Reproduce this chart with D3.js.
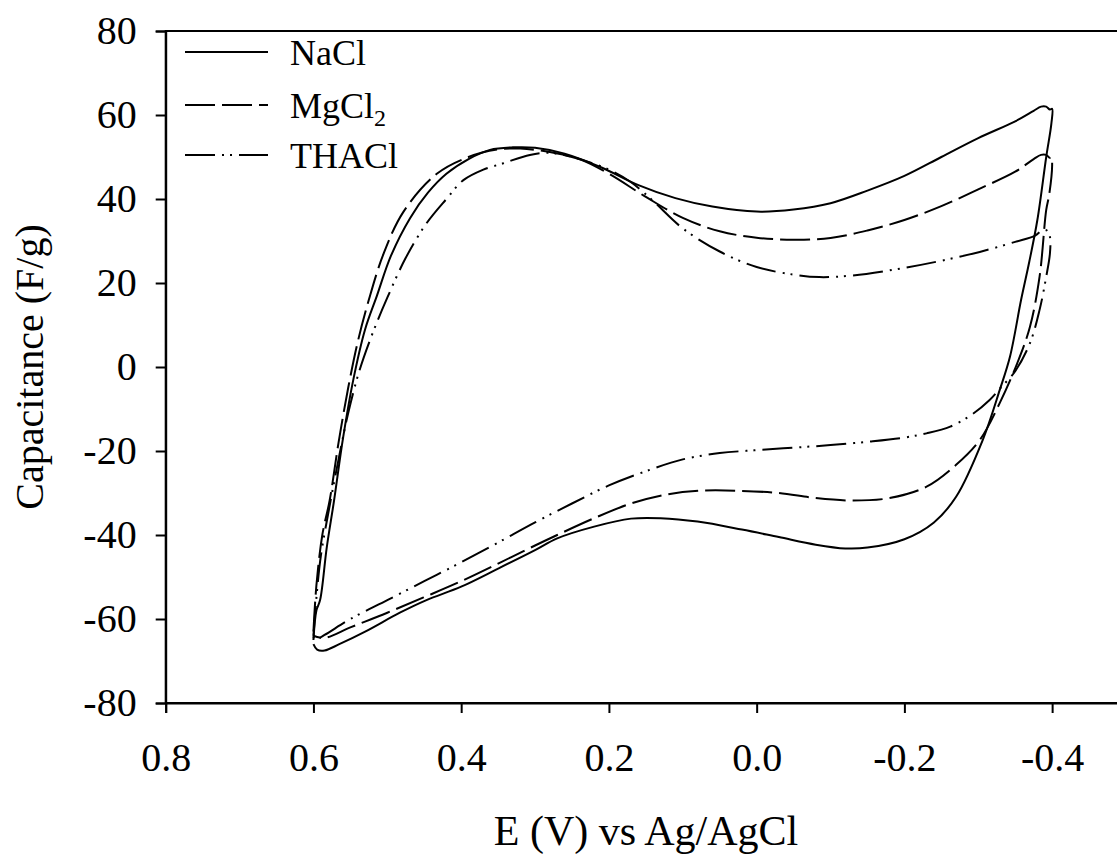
<html lang="en">
<head>
<style>
body { margin: 0; background: #fff; }
svg text { font-family: "Liberation Serif", "Times New Roman", serif; fill: #000; }
</style>
</head>
<body>
<script type='text/javascript' src='https://d3js.org/d3.v7.min.js'></script>
<script>
// series (E in V, capacitance in F/g)
const naclE = [0.600, 0.596, 0.591, 0.582, 0.572, 0.560, 0.546, 0.530, 0.514, 0.495, 0.469, 0.445, 0.420, 0.390, 0.361, 0.330, 0.300, 0.260, 0.210, 0.160, 0.110, 0.060, 0.000, -0.050, -0.100, -0.150, -0.200, -0.250, -0.300, -0.350, -0.375, -0.385, -0.392, -0.397, -0.400,
  -0.399, -0.392, -0.380, -0.369, -0.358, -0.343, -0.329, -0.306, -0.270, -0.240, -0.200, -0.150, -0.120, -0.080, -0.030, 0.020, 0.080, 0.130, 0.170, 0.220, 0.270, 0.300, 0.350, 0.400, 0.447, 0.483, 0.530, 0.565, 0.585, 0.595, 0.600];
const naclC = [-65, -58, -55.5, -43, -31.7, -17, -3, 9, 17, 26.5, 35.5, 41.5, 46, 49.5, 51.7, 52.3, 52.2, 50.8, 47.5, 43.3, 40.2, 38.2, 37.0, 37.5, 39, 42, 45.5, 50, 54.5, 58.5, 61, 62, 62, 61.3, 61.5,
  58, 50, 35, 25, 16, 2.5, -5.5, -17.4, -30.9, -37, -41, -43, -43.2, -42.3, -40.5, -38.7, -36.8, -36, -36.1, -38, -40.8, -43.6, -48, -52.3, -55.5, -58.5, -63, -66, -67.5, -67.3, -66];

const mgE = [0.600, 0.596, 0.588, 0.578, 0.566, 0.553, 0.540, 0.525, 0.505, 0.478, 0.433, 0.390, 0.350, 0.320, 0.280, 0.240, 0.200, 0.150, 0.100, 0.050, 0.000, -0.050, -0.100, -0.150, -0.200, -0.250, -0.300, -0.350, -0.375, -0.385, -0.392, -0.397, -0.399,
  -0.400, -0.396, -0.392, -0.383, -0.370, -0.353, -0.329, -0.302, -0.270, -0.230, -0.180, -0.130, -0.080, -0.030, 0.020, 0.070, 0.120, 0.170, 0.220, 0.270, 0.300, 0.350, 0.400, 0.450, 0.500, 0.550, 0.585, 0.600];
const mgC = [-63, -52, -40, -31.7, -18, -5, 6, 16, 27, 37, 46, 50, 51.8, 52, 51.2, 49.5, 46, 40.5, 35.5, 32.3, 30.8, 30.3, 30.7, 32.5, 35, 38.3, 42.3, 46.5, 49.5, 50.5, 50.5, 49.8, 50,
  48, 41, 37.4, 21.5, 9.6, 1.0, -8.6, -17.4, -23.3, -28.5, -31.2, -31.8, -31.2, -30, -29.5, -29.4, -30.3, -32.5, -36, -40, -42.5, -46.8, -51, -54.8, -58.5, -62, -64.5, -64];

const thaE = [0.600, 0.596, 0.590, 0.578, 0.566, 0.553, 0.538, 0.520, 0.500, 0.475, 0.447, 0.420, 0.397, 0.370, 0.343, 0.307, 0.280, 0.250, 0.200, 0.170, 0.140, 0.100, 0.050, 0.000, -0.050, -0.085, -0.130, -0.200, -0.250, -0.302, -0.350, -0.377, -0.387, -0.393, -0.397,
  -0.397, -0.392, -0.383, -0.370, -0.350, -0.330, -0.315, -0.290, -0.262, -0.230, -0.200, -0.150, -0.100, -0.050, 0.000, 0.050, 0.100, 0.145, 0.200, 0.250, 0.300, 0.350, 0.400, 0.450, 0.500, 0.550, 0.585, 0.598, 0.600];
const thaC = [-64, -55, -45, -33, -22, -11, -1, 8, 16.5, 26, 34.2, 40, 44.5, 47, 48.5, 50.5, 51, 50, 47, 44, 39.5, 33, 27.5, 23.8, 22, 21.4, 21.8, 23.6, 25.3, 27.4, 29.8, 31.3, 32.6, 32.5, 31,
  27, 21.5, 13.6, 5.7, -1, -5, -7.9, -11.5, -14.2, -15.8, -16.8, -17.8, -18.6, -19.2, -19.8, -20.5, -22, -24.5, -28.2, -32.5, -37, -41.8, -46.5, -51, -55.5, -60, -63.8, -65, -64];

const seriesNames = ["NaCl", "MgCl", "THACl"];
const seriesDash = [null, "30,7", "30,7,2,6,2,7"];
const xTicks = [0.8, 0.6, 0.4, 0.2, 0.0, -0.2, -0.4];
const yTicks = [-80, -60, -40, -20, 0, 20, 40, 60, 80];

const W = 1117, H = 856;
const FONT = "'Liberation Serif', 'Times New Roman', serif";
const svg = d3.select("body").append("svg")
  .attr("width", W).attr("height", H)
  .attr("font-family", FONT);

const x = d3.scaleLinear().domain([0.8, -0.5]).range([165.7, 1126]);
const y = d3.scaleLinear().domain([-80, 80]).range([703, 31]);

// frame (right edge falls outside the picture)
svg.append("rect")
  .attr("x", x(0.8)).attr("y", y(80))
  .attr("width", x(-0.5) - x(0.8)).attr("height", y(-80) - y(80))
  .attr("fill", "none").attr("stroke", "#000").attr("stroke-width", 2);

const xAxis = svg.append("g")
  .attr("transform", "translate(0," + y(-80) + ")")
  .call(d3.axisBottom(x).tickValues(xTicks).tickSize(10).tickPadding(30)
    .tickFormat(d => d.toFixed(1)));
const yAxis = svg.append("g")
  .attr("transform", "translate(" + x(0.8) + ",0)")
  .call(d3.axisLeft(y).tickValues(yTicks).tickSize(10).tickPadding(19)
    .tickFormat(d => String(d)));

[xAxis, yAxis].forEach(g => {
  g.attr("font-family", FONT).attr("font-size", 40);
  g.select(".domain").attr("stroke-width", 2);
  g.selectAll(".tick line").attr("stroke-width", 2);
});

// curves
const line = d3.line()
  .x(d => x(d[0])).y(d => y(d[1]))
  .curve(d3.curveCatmullRom.alpha(0.5));

const loops = [
  d3.zip(naclE, naclC),
  d3.zip(mgE, mgC),
  d3.zip(thaE, thaC)
];

loops.forEach((pts, i) => {
  svg.append("path")
    .datum(pts)
    .attr("d", line)
    .attr("fill", "none")
    .attr("stroke", "#000")
    .attr("stroke-width", 2)
    .attr("stroke-dasharray", seriesDash[i]);
});

// legend
const legY = [52, 105, 155];
seriesNames.forEach((name, i) => {
  svg.append("line")
    .attr("x1", 185).attr("x2", 268)
    .attr("y1", legY[i]).attr("y2", legY[i])
    .attr("stroke", "#000").attr("stroke-width", 2)
    .attr("stroke-dasharray", seriesDash[i]);
  const t = svg.append("text")
    .attr("x", 290).attr("y", legY[i] + 13)
    .attr("font-size", 36)
    .text(name);
  if (name === "MgCl") {
    t.append("tspan").attr("font-size", 24).attr("dy", 8).text("2");
  }
});

// axis titles
svg.append("text")
  .attr("x", 646).attr("y", 845)
  .attr("text-anchor", "middle")
  .attr("font-size", 42)
  .text("E (V) vs Ag/AgCl");

svg.append("text")
  .attr("transform", "translate(43," + ((y(80) + y(-80)) / 2) + ") rotate(-90)")
  .attr("text-anchor", "middle")
  .attr("font-size", 40)
  .text("Capacitance (F/g)");
</script>
</body>
</html>
